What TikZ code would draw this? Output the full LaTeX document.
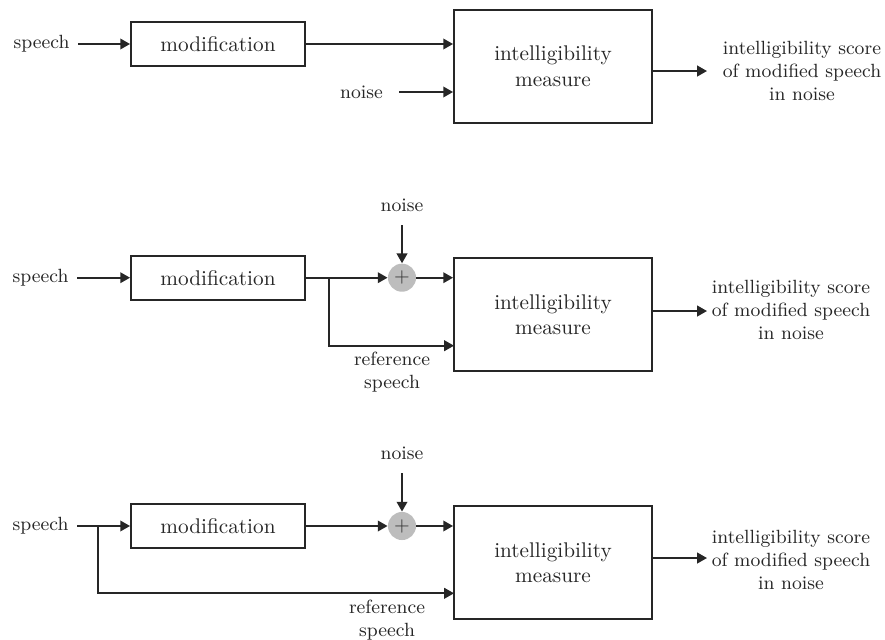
\documentclass[tikz,border=0pt]{standalone}
\usetikzlibrary{arrows.meta}
\begin{document}
\begin{tikzpicture}[x=0.4706pt,y=-0.4706pt,
  blk/.style={draw=black!85, line width=0.9pt, rectangle, inner sep=0pt,
    font=\fontsize{10}{12}\selectfont, text=black!85, align=center},
  modbox/.style={blk, minimum width=81.9pt, minimum height=20.7pt},
  measbox/.style={blk, minimum width=93.2pt, minimum height=53.3pt},
  lbl/.style={font=\fontsize{9}{11}\selectfont, text=black!85, align=center, inner sep=0pt},
  outlbl/.style={lbl},
  sumnode/.style={circle, fill=black!26, minimum size=13.2pt, inner sep=0pt,
    font=\fontsize{9.5}{9.5}\selectfont, text=black!80},
  conn/.style={draw=black!85, line width=0.8pt, -{Triangle[length=4.6pt,width=5pt]}},
  wire/.style={draw=black!85, line width=0.8pt}]
\useasboundingbox (0,0) rectangle (885,639);

% ---------- top ----------
\node[lbl, anchor=east, inner xsep=3.8pt] (sp1) at (78,44) {speech};
\node[modbox] (mod1) at (218,44) {modification};
\node[measbox] (meas1) at (553,66.3) {intelligibility\\measure};
\node[lbl] (nz1) at (361.5,92) {noise};
\coordinate (nz1s) at (399,92);
\node[outlbl] (out1) at (802,71) {intelligibility score\\of modified speech\\in noise};
\coordinate (o1) at (707,71);
\draw[conn] (sp1.east) -- (mod1.west);
\draw[conn] (mod1.east) -- (mod1.east -| meas1.west);
\draw[conn] (nz1s) -- (nz1s -| meas1.west);
\draw[conn] (meas1.east |- o1) -- (o1);

% ---------- middle ----------
\node[lbl, anchor=east, inner xsep=3.8pt] (sp2) at (77,277.7) {speech};
\node[modbox] (mod2) at (218,277.7) {modification};
\node[sumnode] (sum2) at (402,277.7) {+};
\node[lbl] (nz2) at (402,205) {noise};
\coordinate (nz2s) at (402,225);
\node[measbox] (meas2) at (553,314.5) {intelligibility\\measure};
\coordinate (br2) at (329,277.7);
\coordinate (rin2) at (454,345.7);
\node[lbl] (ref2) at (392,372) {reference\\speech};
\node[outlbl] (out2) at (791,310) {intelligibility score\\of modified speech\\in noise};
\coordinate (o2) at (707,311);
\draw[conn] (sp2.east) -- (mod2.west);
\draw[wire] (mod2.east) -- (br2);
\draw[conn] (br2) -- (sum2.west);
\draw[conn] (br2) |- (rin2);
\draw[conn] (nz2s) -- (sum2.north);
\draw[conn] (sum2.east) -- (sum2.east -| meas2.west);
\draw[conn] (meas2.east |- o2) -- (o2);

% ---------- bottom ----------
\node[lbl, anchor=east, inner xsep=3.8pt] (sp3) at (77,526) {speech};
\node[modbox] (mod3) at (218,526) {modification};
\node[sumnode] (sum3) at (402,526) {+};
\node[lbl] (nz3) at (402,453) {noise};
\coordinate (nz3s) at (402,473);
\node[measbox] (meas3) at (553,562.7) {intelligibility\\measure};
\coordinate (br3) at (97.7,526);
\coordinate (rin3) at (454,593.3);
\node[lbl] (ref3) at (387,620) {reference\\speech};
\node[outlbl] (out3) at (791,560) {intelligibility score\\of modified speech\\in noise};
\coordinate (o3) at (707,558);
\draw[conn] (sp3.east) -- (mod3.west);
\draw[conn] (br3) |- (rin3);
\draw[conn] (mod3.east) -- (sum3.west);
\draw[conn] (nz3s) -- (sum3.north);
\draw[conn] (sum3.east) -- (sum3.east -| meas3.west);
\draw[conn] (meas3.east |- o3) -- (o3);
\end{tikzpicture}
\end{document}
